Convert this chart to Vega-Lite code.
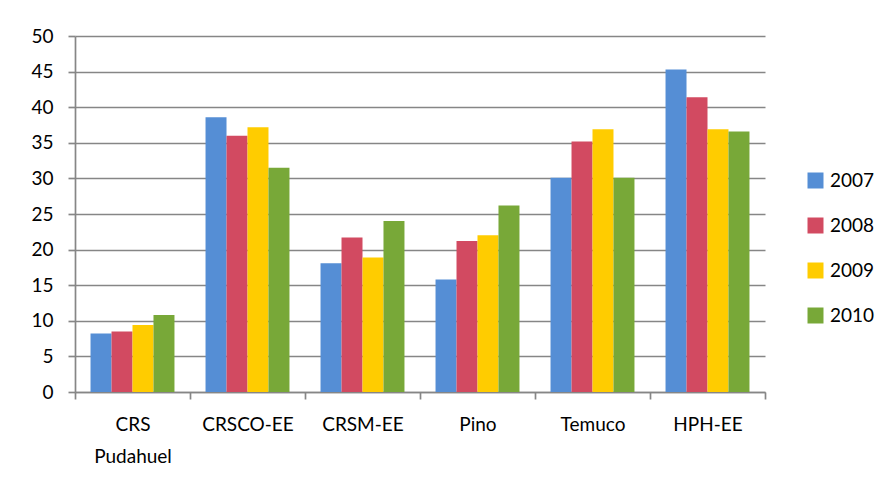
{
  "$schema": "https://vega.github.io/schema/vega-lite/v6.json",
  "width": 690,
  "height": 356,
  "autosize": {"type": "none"},
  "padding": {"left": 75, "top": 36, "right": 123, "bottom": 85},
  "background": "white",
  "title": {
    "text": "Tasa de residuos sólidos por establecimiento y año",
    "frame": "group",
    "anchor": "middle",
    "baseline": "alphabetic",
    "offset": 20,
    "dx": 35,
    "font": "Lato",
    "fontSize": 19,
    "fontWeight": "bold",
    "color": "black"
  },
  "data": {
    "values": [
      {"centro": "CRS Pudahuel", "anio": "2007", "valor": 8.2},
      {"centro": "CRS Pudahuel", "anio": "2008", "valor": 8.5},
      {"centro": "CRS Pudahuel", "anio": "2009", "valor": 9.4},
      {"centro": "CRS Pudahuel", "anio": "2010", "valor": 10.8},
      {"centro": "CRSCO-EE", "anio": "2007", "valor": 38.6},
      {"centro": "CRSCO-EE", "anio": "2008", "valor": 36.0},
      {"centro": "CRSCO-EE", "anio": "2009", "valor": 37.2},
      {"centro": "CRSCO-EE", "anio": "2010", "valor": 31.5},
      {"centro": "CRSM-EE", "anio": "2007", "valor": 18.1},
      {"centro": "CRSM-EE", "anio": "2008", "valor": 21.7},
      {"centro": "CRSM-EE", "anio": "2009", "valor": 18.9},
      {"centro": "CRSM-EE", "anio": "2010", "valor": 24.0},
      {"centro": "Pino", "anio": "2007", "valor": 15.8},
      {"centro": "Pino", "anio": "2008", "valor": 21.2},
      {"centro": "Pino", "anio": "2009", "valor": 22.0},
      {"centro": "Pino", "anio": "2010", "valor": 26.2},
      {"centro": "Temuco", "anio": "2007", "valor": 30.1},
      {"centro": "Temuco", "anio": "2008", "valor": 35.2},
      {"centro": "Temuco", "anio": "2009", "valor": 36.9},
      {"centro": "Temuco", "anio": "2010", "valor": 30.1},
      {"centro": "HPH-EE", "anio": "2007", "valor": 45.3},
      {"centro": "HPH-EE", "anio": "2008", "valor": 41.4},
      {"centro": "HPH-EE", "anio": "2009", "valor": 36.9},
      {"centro": "HPH-EE", "anio": "2010", "valor": 36.6}
    ]
  },
  "mark": {"type": "bar"},
  "encoding": {
    "x": {
      "field": "centro",
      "type": "nominal",
      "sort": ["CRS Pudahuel", "CRSCO-EE", "CRSM-EE", "Pino", "Temuco", "HPH-EE"],
      "scale": {"paddingInner": 0, "paddingOuter": 0},
      "axis": {
        "title": null,
        "labelAngle": 0,
        "tickBand": "extent",
        "labelExpr": "datum.label == 'CRS Pudahuel' ? ['CRS', 'Pudahuel'] : datum.label",
        "labelLineHeight": 32,
        "labelPadding": 16,
        "labelFont": "Lato",
        "labelFontSize": 19,
        "labelColor": "black",
        "domainColor": "#868686",
        "domainWidth": 1.7,
        "tickColor": "#868686",
        "tickWidth": 1.7,
        "tickSize": 7,
        "grid": false
      }
    },
    "xOffset": {
      "field": "anio",
      "type": "nominal",
      "sort": ["2007", "2008", "2009", "2010"],
      "scale": {"paddingInner": 0, "paddingOuter": 0.74}
    },
    "y": {
      "field": "valor",
      "type": "quantitative",
      "scale": {"domain": [0, 50], "nice": false},
      "axis": {
        "title": null,
        "values": [0, 5, 10, 15, 20, 25, 30, 35, 40, 45, 50],
        "grid": true,
        "gridColor": "#868686",
        "gridWidth": 1.7,
        "domainColor": "#868686",
        "domainWidth": 1.7,
        "tickColor": "#868686",
        "tickWidth": 1.7,
        "tickSize": 7,
        "labelPadding": 15,
        "labelFont": "Lato",
        "labelFontSize": 19,
        "labelColor": "black"
      }
    },
    "color": {
      "field": "anio",
      "type": "nominal",
      "scale": {
        "domain": ["2007", "2008", "2009", "2010"],
        "range": ["#558ED5", "#D24A61", "#FFCC00", "#78A838"]
      },
      "legend": {
        "title": null,
        "orient": "none",
        "legendX": 731,
        "legendY": 135,
        "padding": 0,
        "symbolType": "square",
        "symbolSize": 256,
        "symbolStrokeWidth": 0,
        "labelFont": "Lato",
        "labelFontSize": 19,
        "labelColor": "black",
        "labelOffset": 5,
        "rowPadding": 25
      }
    }
  },
  "config": {"view": {"stroke": null}}
}
